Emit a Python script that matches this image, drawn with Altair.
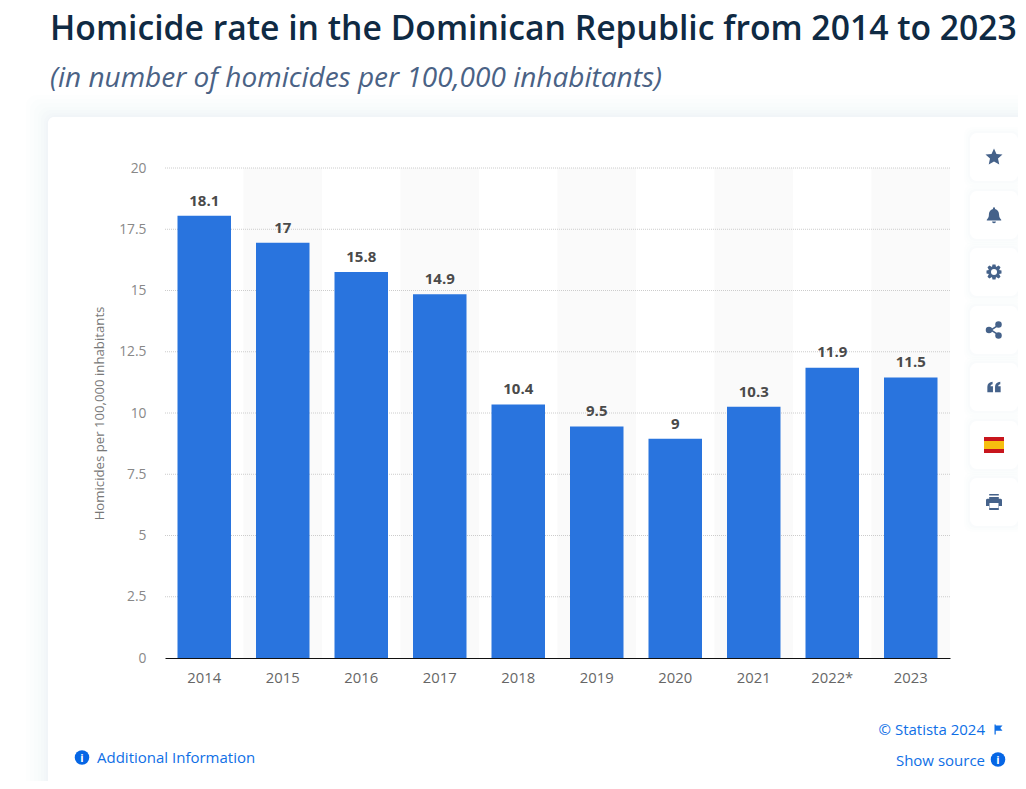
import altair as alt
import pandas as pd

years = ["2014", "2015", "2016", "2017", "2018", "2019", "2020", "2021", "2022*", "2023"]
rates = [18.1, 17, 15.8, 14.9, 10.4, 9.5, 9, 10.3, 11.9, 11.5]
label_texts = ["18.1", "17", "15.8", "14.9", "10.4", "9.5", "9", "10.3", "11.9", "11.5"]
striped_years = ["2015", "2017", "2019", "2021", "2023"]
y_ticks = [0, 2.5, 5, 7.5, 10, 12.5, 15, 17.5, 20]

TITLE = "Homicide rate in the Dominican Republic from 2014 to 2023"
SUBTITLE = "(in number of homicides per 100,000 inhabitants)"
Y_TITLE = "Homicides per 100,000 inhabitants"

PX0, PY0 = 165, 168  # page position of the plot origin
W, H = 785, 490
FONT = "Open Sans"
BLUE = "#0f6fe6"
ICON = "#45628a"

one = pd.DataFrame({"a": [0]})
X_SCALE = alt.Scale(domain=years, paddingInner=0.31, paddingOuter=0.155)
Y_SCALE = alt.Scale(domain=[0, 20], nice=False)
X_AXIS = alt.Axis(
    labelFont=FONT, labelFontSize=14.8, labelColor="#666666", labelAngle=0, labelPadding=12.5,
    ticks=False, domain=True, domainColor="#111111", domainWidth=1.2, grid=False, zindex=1)
Y_AXIS = alt.Axis(
    values=y_ticks, labelFont=FONT, labelFontSize=13.8, labelColor="#888888", labelPadding=19,
    labelExpr="format(datum.value, '.10~f')",
    ticks=False, domain=False, grid=False, zindex=1,
    titleFont=FONT, titleFontSize=13.2, titleFontWeight="normal", titleColor="#777777",
    titlePadding=12.5)


def xenc(field):
    return alt.X(field, scale=X_SCALE, sort=years, title=None, axis=X_AXIS)


def yenc(field):
    return alt.Y(field, scale=Y_SCALE, title=Y_TITLE, axis=Y_AXIS)


def box(x0, y0, x1, y1, color, opacity=1.0, radius=0):
    return alt.Chart(one).mark_rect(color=color, opacity=opacity, cornerRadius=radius).encode(
        x=alt.value(x0 - PX0), x2=alt.value(x1 - PX0),
        y=alt.value(y0 - PY0), y2=alt.value(y1 - PY0))


def label(x, y, text, size, color, align="left", weight="normal", style="normal", angle=0):
    return alt.Chart(one).mark_text(
        font=FONT, fontSize=size, color=color, align=align, baseline="alphabetic",
        fontWeight=weight, fontStyle=style, angle=angle).encode(
        x=alt.value(x - PX0), y=alt.value(y - PY0), text=alt.value(text))


def glyph(x, y, shape, px, color):
    return alt.Chart(one).mark_point(
        shape=shape, size=px * px, filled=True, color=color, opacity=1, strokeWidth=0).encode(
        x=alt.value(x - PX0), y=alt.value(y - PY0))


layers = []

# card with soft shadow
for grow, alpha in [(22, .006), (18, .007), (14, .008), (10, .009), (7, .010), (4, .011), (2, .012)]:
    layers.append(box(48 - grow, 117 - grow, 1100, 900, "#3c5a8c", alpha, 10))
layers.append(box(48, 117, 1100, 900, "#ffffff", 1, 6))

# stripes
layers.append(alt.Chart(pd.DataFrame({"year": striped_years, "top": [20] * 5})).mark_bar(
    size=78.5, color="#fafafa").encode(x=xenc("year:N"), y=yenc("top:Q")))

# grid
layers.append(alt.Chart(pd.DataFrame({"t": y_ticks[1:]})).mark_rule(
    color="#cccccc", strokeWidth=1, strokeDash=[1, 1]).encode(y=yenc("t:Q")))

df = pd.DataFrame({"year": years, "rate": rates, "txt": label_texts})
base = alt.Chart(df)
layers.append(base.mark_bar(size=53.5, color="#2974de", yOffset=1.2, y2Offset=0).encode(
    x=xenc("year:N"), y=yenc("rate:Q"), y2=alt.value(H)))
layers.append(base.mark_text(font=FONT, fontSize=15, fontWeight="bold", color="#4a4a4a",
                             baseline="alphabetic", dy=-9).encode(
    x=xenc("year:N"), y=yenc("rate:Q"), text="txt:N"))

# headings
layers.append(label(50, 40, TITLE, 33.7, "#0f2a43", weight=600))
layers.append(label(50, 87, SUBTITLE, 28, "#4a6285", style="italic"))

# side buttons
button_ys = [157, 215, 272, 330, 387, 445, 502]
for cy in button_ys:
    for g, a in [(6, .006), (4, .008), (2, .012)]:
        layers.append(box(970 - g, cy - 24 - g, 1018 + g, cy + 24 + g, "#3c5a8c", a, 8))
    layers.append(box(970, cy - 24, 1018, cy + 24, "#ffffff", 1, 7))

STAR = "M0,-1 L0.29,-0.36 L1,-0.28 L0.47,0.18 L0.62,0.88 L0,0.52 L-0.62,0.88 L-0.47,0.18 L-1,-0.28 L-0.29,-0.36 Z"
BELL = ("M-0.12,-0.88 L0.12,-0.88 L0.12,-0.72 C0.5,-0.6 0.6,-0.3 0.6,0 C0.6,0.25 0.72,0.4 0.85,0.55 "
        "L0.85,0.65 L-0.85,0.65 L-0.85,0.55 C-0.72,0.4 -0.6,0.25 -0.6,0 C-0.6,-0.3 -0.5,-0.6 -0.12,-0.72 Z "
        "M-0.22,0.75 L0.22,0.75 L0.22,0.85 C0.1,1 -0.1,1 -0.22,0.85 Z")
GEAR = ("M-0.2,-1 L0.2,-1 L0.27,-0.68 L0.62,-0.87 L0.87,-0.62 L0.68,-0.27 L1,-0.2 L1,0.2 L0.68,0.27 "
        "L0.87,0.62 L0.62,0.87 L0.27,0.68 L0.2,1 L-0.2,1 L-0.27,0.68 L-0.62,0.87 L-0.87,0.62 L-0.68,0.27 "
        "L-1,0.2 L-1,-0.2 L-0.68,-0.27 L-0.87,-0.62 L-0.62,-0.87 L-0.27,-0.68 Z")
LINKS = "M0.55,-0.72 L-0.6,0 L0.55,0.72 L0.55,0.5 L-0.2,0 L0.55,-0.5 Z"
QUOTE = ("M-0.95,0.75 L-0.95,-0.05 C-0.95,-0.45 -0.65,-0.7 -0.2,-0.75 L-0.2,-0.4 C-0.4,-0.38 -0.5,-0.28 -0.5,-0.1 "
         "L-0.15,-0.1 L-0.15,0.75 Z M0.15,0.75 L0.15,-0.05 C0.15,-0.45 0.45,-0.7 0.9,-0.75 L0.9,-0.4 "
         "C0.7,-0.38 0.6,-0.28 0.6,-0.1 L0.95,-0.1 L0.95,0.75 Z")
PRINT = ("M-0.6,-1 L0.6,-1 L0.6,-0.4 L0.85,-0.4 C0.95,-0.4 1,-0.3 1,-0.2 L1,0.5 L0.6,0.5 L0.6,1 L-0.6,1 L-0.6,0.5 "
         "L-1,0.5 L-1,-0.2 C-1,-0.3 -0.95,-0.4 -0.85,-0.4 L-0.6,-0.4 Z")
FLAG = "M-0.7,-1 L-0.45,-1 L-0.45,-0.8 L0.9,-0.8 L0.45,-0.3 L0.9,0.25 L-0.45,0.25 L-0.45,1 L-0.7,1 Z"

layers.append(glyph(994, 157, STAR, 17, ICON))
layers.append(glyph(994, 215, BELL, 17, ICON))
layers.append(glyph(994, 272, GEAR, 15, ICON))
layers.append(glyph(994, 272, "circle", 6, "#ffffff"))
layers.append(glyph(994, 330, LINKS, 15, ICON))
layers.append(glyph(998.5, 324.5, "circle", 6.5, ICON))
layers.append(glyph(998.5, 335.5, "circle", 6.5, ICON))
layers.append(glyph(989, 330, "circle", 6.5, ICON))
layers.append(glyph(994, 387, QUOTE, 14, ICON))
layers.append(box(984, 437, 1004, 453, "#c8161d"))
layers.append(box(984, 441, 1004, 449, "#f6bf0f"))
layers.append(glyph(994, 502, PRINT, 16, ICON))
layers.append(box(989.5, 503, 998.5, 508, "#ffffff"))
layers.append(box(989, 495.5, 999, 497, "#ffffff"))

# footer
layers.append(glyph(82, 757.5, "circle", 14.5, "#0666e5"))
layers.append(label(82, 762, "i", 11, "#ffffff", align="center", weight="bold"))
layers.append(label(97, 763, "Additional Information", 15, BLUE))
layers.append(label(985, 735, "\u00a9 Statista 2024", 15, BLUE, align="right"))
layers.append(glyph(998, 729.5, FLAG, 10, BLUE))
layers.append(label(985, 766, "Show source", 15, BLUE, align="right"))
layers.append(glyph(998, 759.5, "circle", 14.5, "#0666e5"))
layers.append(label(998, 764, "i", 11, "#ffffff", align="center", weight="bold"))

chart = alt.layer(*layers).resolve_scale(x="shared", y="shared").properties(
    width=W, height=H,
    autosize=alt.AutoSizeParams(type="none"),
    padding={"left": PX0 - 8, "top": PY0 - 8, "right": 1018 - PX0 - W, "bottom": 781 - PY0 - H},
    background="#ffffff",
).configure_view(stroke=None, clip=False)

chart.save("out.html", embed_options={"renderer": "svg", "actions": False})
